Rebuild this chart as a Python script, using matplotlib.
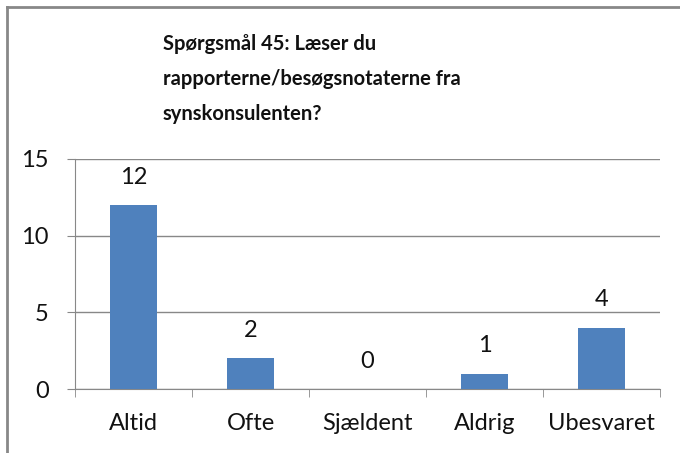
import matplotlib
matplotlib.use("Agg")
import matplotlib.pyplot as plt
from matplotlib.lines import Line2D
import numpy as np

categories = ["Altid", "Ofte", "Sjældent", "Aldrig", "Ubesvaret"]
values = [12, 2, 0, 1, 4]
yticks = [0, 5, 10, 15]
title = "Spørgsmål 45: Læser du\nrapporterne/besøgsnotaterne fra\nsynskonsulenten?"

plt.rcParams['font.family'] = ['Lato', 'DejaVu Sans']

fig = plt.figure(figsize=(6.8, 4.53), dpi=100)
ax = fig.add_axes([75/680, 1 - 389/453, (660-75)/680, (389-159)/453])

x = np.arange(len(categories))
ax.bar(x, values, width=0.4, color="#4F81BD", zorder=3)
for xi, v in zip(x, values):
    ax.text(xi, v + 1.4, str(v), ha="center", va="baseline", fontsize=17, color="#111111")

ax.set_xlim(-0.5, len(categories) - 0.5)
ax.set_ylim(0, 15)
ax.set_yticks(yticks)
ax.set_yticklabels([str(t) for t in yticks], fontsize=17, color="#111111")
ax.yaxis.grid(True, color="#888888", linewidth=1, zorder=0)
ax.set_xticks(x)
ax.set_xticklabels(categories, fontsize=17, color="#111111")
ax.tick_params(axis="x", length=0, pad=17)
ax.tick_params(axis="y", length=6, color="#888888", pad=13)
ax.set_xticks(np.arange(-0.5, len(categories)), minor=True)
ax.tick_params(axis="x", which="minor", length=6, color="#888888", direction="out")

for s in ["top", "right"]:
    ax.spines[s].set_visible(False)
for s in ["left", "bottom"]:
    ax.spines[s].set_color("#888888")

fig.text(163/680, 1 - 120/453, title, ha="left", va="baseline", fontsize=14.5,
         fontweight="bold", linespacing=1.95, color="#111111")

fig.add_artist(Line2D([7/680, 7/680], [0, 1 - 7/453], transform=fig.transFigure, color="#888888", lw=2))
fig.add_artist(Line2D([7/680, 1], [1 - 7/453, 1 - 7/453], transform=fig.transFigure, color="#888888", lw=2))

fig.savefig("out.png", dpi=100)
